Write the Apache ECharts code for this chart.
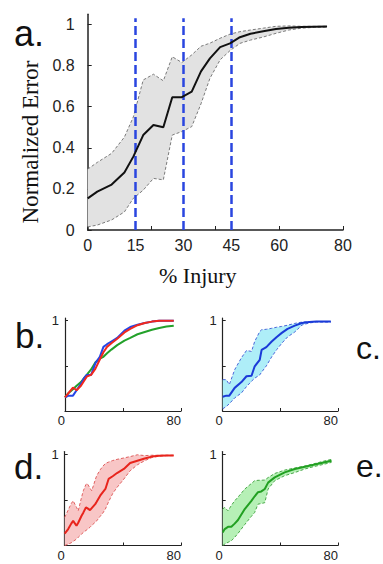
<!DOCTYPE html>
<html>
<head>
<meta charset="utf-8">
<script src="https://cdn.jsdelivr.net/npm/echarts@6/dist/echarts.min.js"></script>
<style>
  html, body { margin: 0; padding: 0; background: #fff; }
  #chart { width: 383px; height: 564px; }
</style>
</head>
<body>
<div id="chart"></div>
<script>
// panel a: mean normalized error with spread
const aX     = [0, 3, 7.5, 11.5, 14.3, 17.4, 20.6, 23.7, 26.5, 29.5, 32.6, 35.5, 38.3, 41.5, 44.6, 47.7, 51, 55, 59, 63, 67, 71, 75];
const aMean  = [0.154, 0.187, 0.221, 0.28, 0.357, 0.462, 0.511, 0.5, 0.646, 0.646, 0.673, 0.772, 0.835, 0.89, 0.908, 0.938, 0.955, 0.967, 0.978, 0.984, 0.988, 0.989, 0.99];
const aUpper = [0.296, 0.329, 0.373, 0.452, 0.55, 0.73, 0.758, 0.726, 0.843, 0.815, 0.852, 0.894, 0.909, 0.933, 0.953, 0.965, 0.973, 0.982, 0.991, 0.993, 0.991, 0.991, 0.991];
const aLower = [0.015, 0.024, 0.049, 0.088, 0.154, 0.194, 0.251, 0.244, 0.462, 0.479, 0.503, 0.614, 0.738, 0.828, 0.873, 0.908, 0.924, 0.939, 0.957, 0.973, 0.982, 0.986, 0.987];
const aInjuryMarks = [15, 30, 45];
const aXLabels = [0, 15, 30, 45, 60, 80];
const aXTicks  = [0, 20, 40, 60, 80];
const aYLabels = [0, 0.2, 0.4, 0.6, 0.8, 1];

// panel b: three mean curves
const bX     = [0, 2.5, 5.5, 8, 11, 13, 15, 18, 21, 24, 26.5, 29, 32, 36, 41, 45, 50, 55, 60, 65, 70, 75];
const bRed   = [0.15, 0.2, 0.26, 0.23, 0.28, 0.33, 0.38, 0.4, 0.47, 0.57, 0.65, 0.71, 0.75, 0.8, 0.87, 0.91, 0.95, 0.975, 0.99, 1.0, 1.0, 1.0];
const bBlue  = [0.15, 0.17, 0.17, 0.23, 0.3, 0.36, 0.4, 0.4, 0.53, 0.6, 0.71, 0.74, 0.77, 0.81, 0.89, 0.93, 0.955, 0.975, 0.99, 1.0, 1.0, 1.0];
const bGreen = [0.15, 0.2, 0.24, 0.28, 0.32, 0.36, 0.4, 0.46, 0.54, 0.58, 0.6, 0.64, 0.68, 0.73, 0.78, 0.81, 0.85, 0.875, 0.9, 0.92, 0.935, 0.945];

// panel c: blue
const cX     = [0, 2.5, 4.6, 8.3, 13, 16.5, 20, 22.2, 25.7, 27, 30.3, 34, 37.5, 41, 45, 50, 55, 60, 65, 70, 75];
const cMean  = [0.157, 0.17, 0.17, 0.256, 0.32, 0.385, 0.39, 0.495, 0.567, 0.677, 0.708, 0.77, 0.82, 0.865, 0.91, 0.945, 0.975, 0.985, 0.99, 0.99, 0.99];
const cUpper = [0.347, 0.347, 0.292, 0.457, 0.59, 0.67, 0.66, 0.77, 0.88, 0.9, 0.905, 0.916, 0.928, 0.937, 0.95, 0.97, 0.985, 0.99, 0.99, 0.99, 0.99];
const cLower = [0.024, 0.05, 0.08, 0.145, 0.2, 0.27, 0.33, 0.363, 0.4, 0.43, 0.5, 0.6, 0.68, 0.75, 0.82, 0.875, 0.952, 0.975, 0.985, 0.985, 0.985];

// panel d: red
const dX     = [0, 2.4, 4.5, 5.8, 8.1, 9.3, 11.6, 12.8, 14.6, 15.5, 17.4, 18.6, 21, 22, 24.4, 26, 28, 30.2, 33, 36, 40.7, 45, 50, 55, 60, 65, 70, 75];
const dMean  = [0.13, 0.18, 0.24, 0.27, 0.216, 0.25, 0.326, 0.36, 0.418, 0.41, 0.388, 0.41, 0.454, 0.48, 0.546, 0.58, 0.62, 0.73, 0.76, 0.795, 0.84, 0.905, 0.93, 0.955, 0.975, 0.985, 0.986, 0.986];
const dUpper = [0.308, 0.39, 0.46, 0.49, 0.42, 0.38, 0.53, 0.6, 0.67, 0.68, 0.63, 0.6, 0.72, 0.766, 0.83, 0.865, 0.9, 0.915, 0.932, 0.945, 0.96, 0.975, 0.995, 0.986, 0.99, 0.99, 0.99, 0.99];
const dLower = [0.0, 0.015, 0.03, 0.045, 0.07, 0.09, 0.125, 0.143, 0.165, 0.175, 0.2, 0.22, 0.255, 0.27, 0.32, 0.35, 0.4, 0.48, 0.57, 0.637, 0.729, 0.82, 0.885, 0.93, 0.965, 0.98, 0.985, 0.986];

// panel e: green
const eX     = [0, 1.4, 3.7, 6, 8.3, 10.6, 15.3, 19.9, 22.2, 24.5, 26.8, 29.2, 31.5, 36.1, 43, 50, 57, 63, 70, 75.5];
const eMean  = [0.143, 0.18, 0.205, 0.205, 0.24, 0.28, 0.4, 0.49, 0.54, 0.585, 0.593, 0.62, 0.69, 0.747, 0.802, 0.839, 0.864, 0.885, 0.91, 0.93];
const eUpper = [0.4, 0.418, 0.38, 0.44, 0.49, 0.53, 0.619, 0.68, 0.711, 0.715, 0.716, 0.718, 0.745, 0.79, 0.827, 0.85, 0.872, 0.895, 0.925, 0.945];
const eLower = [0.0, 0.015, 0.035, 0.052, 0.09, 0.132, 0.23, 0.32, 0.363, 0.454, 0.46, 0.47, 0.619, 0.711, 0.766, 0.8, 0.839, 0.865, 0.89, 0.912];

const smallXLabels = [0, 80];
const smallXTicks  = [0, 40, 80];
const smallYLabels = [1];
const smallYTicks  = [0.5, 1];

const SANS = "'Liberation Sans', Arial, sans-serif";
const SERIF = "'Liberation Serif', 'Times New Roman', serif";
const AXIS = "#222";

const pairs = (xs, ys) => xs.map((x, i) => [x, ys[i]]);

function line(grid, xs, ys, color, width, dash) {
  return {
    type: "line", xAxisIndex: grid, yAxisIndex: grid,
    data: pairs(xs, ys), symbol: "none", silent: true,
    lineStyle: { color: color, width: width, type: dash || "solid" }, z: dash ? 3 : 5,
  };
}

// filled region between lower and upper, plus dashed edges
function band(grid, xs, lower, upper, edge, fill) {
  const fillSeries = {
    type: "custom", xAxisIndex: grid, yAxisIndex: grid, silent: true, clip: true, z: 2,
    data: xs.map((x, i) => [x, lower[i], upper[i]]),
    encode: { x: 0, y: [1, 2] },
    renderItem(params, api) {
      if (params.dataIndex !== 0) return null;
      const pts = [];
      xs.forEach((x, i) => pts.push(api.coord([x, upper[i]])));
      for (let i = xs.length - 1; i >= 0; i--) pts.push(api.coord([xs[i], lower[i]]));
      return { type: "polygon", shape: { points: pts }, style: { fill: fill, stroke: null } };
    },
  };
  return [
    fillSeries,
    line(grid, xs, lower, edge, 1, [3, 2]),
    line(grid, xs, upper, edge, 1, [3, 2]),
  ];
}

function smallX(grid) {
  return {
    gridIndex: grid, type: "value", min: 0, max: 80,
    axisLine: { lineStyle: { color: AXIS, width: 1.2 } },
    axisTick: { inside: true, length: 3, customValues: smallXTicks, lineStyle: { color: AXIS } },
    axisLabel: { customValues: smallXLabels, align: "right", margin: 3, fontSize: 13, color: AXIS, fontFamily: SANS },
    splitLine: { show: false },
  };
}
function smallY(grid) {
  return {
    gridIndex: grid, type: "value", min: 0, max: 1.03,
    axisLine: { show: true, lineStyle: { color: AXIS, width: 1.2 } },
    axisTick: { show: true, inside: true, length: 3, customValues: smallYTicks, lineStyle: { color: AXIS } },
    axisLabel: { customValues: smallYLabels, margin: 6, fontSize: 13, color: AXIS, fontFamily: SANS },
    splitLine: { show: false },
  };
}

const chart = echarts.init(document.getElementById("chart"), null, { renderer: "svg" });

const meanA = line(0, aX, aMean, "#111", 2);
meanA.markLine = {
  silent: true, symbol: ["none", "none"], label: { show: false }, animation: false,
  lineStyle: { color: "#2a46e0", width: 2.5, type: [9, 4] },
  data: aInjuryMarks.map(v => [{ coord: [v, 0] }, { coord: [v, 1.03] }]),
};

const panelLabel = (text, left, top, size) => ({
  text: text, left: left, top: top,
  textStyle: { fontSize: size, fontWeight: "normal", color: "#111", fontFamily: SANS },
});

chart.setOption({
  animation: false,
  backgroundColor: "#fff",
  title: [
    panelLabel("a.", 9, 10, 36),
    panelLabel("b.", 10, 313, 35),
    panelLabel("c.", 351, 327, 32),
    panelLabel("d.", 9, 444, 35),
    panelLabel("e.", 351, 445, 32),
    { text: "% Injury", left: 154, top: 259, textStyle: { fontSize: 22, fontWeight: "normal", color: "#111", fontFamily: SERIF } },
  ],
  graphic: [
    {
      type: "text", x: 42, y: 142, rotation: Math.PI / 2, silent: true,
      style: { text: "Normalized Error", font: "23px " + SERIF, fill: "#111", align: "center", verticalAlign: "bottom" },
    },
  ],
  grid: [
    { left: 87.7, right: 40, top: 14.2, bottom: 334, outerBoundsMode: "none" },
    { left: 65, right: 202, top: 318, bottom: 153, outerBoundsMode: "none" },
    { left: 222.7, right: 45, top: 318, bottom: 153, outerBoundsMode: "none" },
    { left: 64.7, right: 202, top: 451.6, bottom: 18.5, outerBoundsMode: "none" },
    { left: 222.7, right: 45, top: 451.6, bottom: 18.5, outerBoundsMode: "none" },
  ],
  xAxis: [
    {
      gridIndex: 0, type: "value", min: 0, max: 80,
      axisLine: { lineStyle: { color: AXIS, width: 1.5 } },
      axisTick: { inside: true, length: 4, customValues: aXTicks, lineStyle: { color: AXIS } },
      axisLabel: { customValues: aXLabels, margin: 7, fontSize: 16, color: AXIS, fontFamily: SANS },
      splitLine: { show: false },
    },
    smallX(1), smallX(2), smallX(3), smallX(4),
  ],
  yAxis: [
    {
      gridIndex: 0, type: "value", min: 0, max: 1.05,
      axisLine: { show: true, lineStyle: { color: AXIS, width: 1.5 } },
      axisTick: { show: true, inside: true, length: 4, customValues: aYLabels, lineStyle: { color: AXIS } },
      axisLabel: { customValues: aYLabels, margin: 13, fontSize: 16, color: AXIS, fontFamily: SANS },
      splitLine: { show: false },
    },
    smallY(1), smallY(2), smallY(3), smallY(4),
  ],
  series: [
    ...band(0, aX, aLower, aUpper, "#7a7a7a", "#e2e2e2"),
    meanA,

    line(1, bX, bGreen, "#23a12a", 2),
    line(1, bX, bBlue, "#2445e6", 2),
    line(1, bX, bRed, "#f0281e", 2),

    ...band(2, cX, cLower, cUpper, "#4a66d8", "#aeeef8"),
    line(2, cX, cMean, "#1a3ad8", 2),

    ...band(3, dX, dLower, dUpper, "#e06060", "#f8c6c6"),
    line(3, dX, dMean, "#e8241c", 2),

    ...band(4, eX, eLower, eUpper, "#4aa84a", "#b6f0b6"),
    line(4, eX, eMean, "#22a022", 2),
  ],
});
</script>
</body>
</html>
